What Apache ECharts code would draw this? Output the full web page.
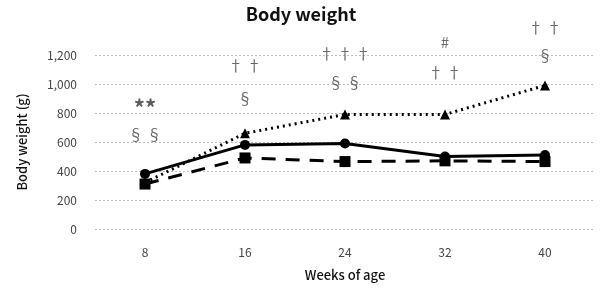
<!DOCTYPE html>
<html>
<head>
<meta charset="utf-8">
<script src="https://cdn.jsdelivr.net/npm/echarts@6/dist/echarts.min.js"></script>
<style>
  html, body { margin: 0; padding: 0; background: #fff; }
  #chart { width: 602px; height: 303px; }
</style>
</head>
<body>
<div id="chart"></div>
<script>
// weeks of age
const weeks = ['8', '16', '24', '32', '40'];

// body weight (g)
const solidCircle = [380, 580, 590, 500, 510];
const dashedSquare = [310, 490, 465, 470, 465];
const dottedTriangle = [320, 660, 790, 790, 990];

// significance marks: [week, height (g), text]
const marks = [
  ['8', 870, '**'],
  ['8', 650, '§ §'],
  ['16', 1130, '† †'],
  ['16', 900, '§'],
  ['24', 1210, '† † †'],
  ['24', 1010, '§ §'],
  ['32', 1290, '#'],
  ['32', 1080, '† †'],
  ['40', 1390, '† †'],
  ['40', 1200, '§']
];

const font = '"Noto Sans CJK JP", "Noto Sans", sans-serif';

var chartDom = document.getElementById('chart');
var myChart = echarts.init(chartDom);

var option = {
  animation: false,
  textStyle: { fontFamily: font },
  title: {
    text: 'Body weight',
    left: 'center',
    top: 0,
    textStyle: { fontFamily: font, fontSize: 18, fontWeight: 'bold', color: '#111' }
  },
  grid: { left: 95, right: 7, top: 55, bottom: 74 },
  xAxis: {
    type: 'category',
    data: weeks,
    name: 'Weeks of age',
    nameLocation: 'middle',
    nameGap: 40,
    nameTextStyle: { fontFamily: font, fontSize: 13, color: '#111', fontWeight: 500 },
    axisLine: { show: false },
    axisTick: { show: false },
    axisLabel: { fontFamily: font, fontSize: 12, color: '#444', margin: 17 }
  },
  yAxis: {
    type: 'value',
    min: 0,
    max: 1200,
    interval: 200,
    name: 'Body weight (g)',
    nameLocation: 'middle',
    nameGap: 66,
    nameTextStyle: { fontFamily: font, fontSize: 13, color: '#111', fontWeight: 500 },
    axisLine: { show: false },
    axisTick: { show: false },
    axisLabel: {
      fontFamily: font, fontSize: 12, color: '#444', margin: 18,
      formatter: function (v) { return v.toLocaleString('en-US'); }
    },
    splitLine: { lineStyle: { color: '#bbb', type: [2, 2], width: 1 } }
  },
  series: [
    {
      type: 'line',
      data: dottedTriangle,
      symbol: 'triangle',
      symbolSize: 10,
      itemStyle: { color: '#000' },
      lineStyle: { color: '#000', width: 3, type: [2, 4] },
      z: 3
    },
    {
      type: 'line',
      data: solidCircle,
      symbol: 'circle',
      symbolSize: 10,
      itemStyle: { color: '#000' },
      lineStyle: { color: '#000', width: 3 },
      z: 4
    },
    {
      type: 'line',
      data: dashedSquare,
      symbol: 'rect',
      symbolSize: 11,
      itemStyle: { color: '#000' },
      lineStyle: { color: '#000', width: 3, type: [14, 10] },
      z: 2
    },
    {
      type: 'scatter',
      data: marks.map(function (m) {
        var big = m[2] === '**';
        return {
          value: [m[0], m[1], m[2]],
          label: big ? { fontSize: 22, fontWeight: 'bold', color: '#333', offset: [0, 5] } : undefined
        };
      }),
      symbolSize: 0,
      clip: false,
      label: {
        show: true,
        position: 'inside',
        formatter: function (p) { return p.value[2]; },
        fontFamily: font,
        fontSize: 15,
        color: '#444'
      },
      z: 5
    }
  ]
};

myChart.setOption(option);
</script>
</body>
</html>
